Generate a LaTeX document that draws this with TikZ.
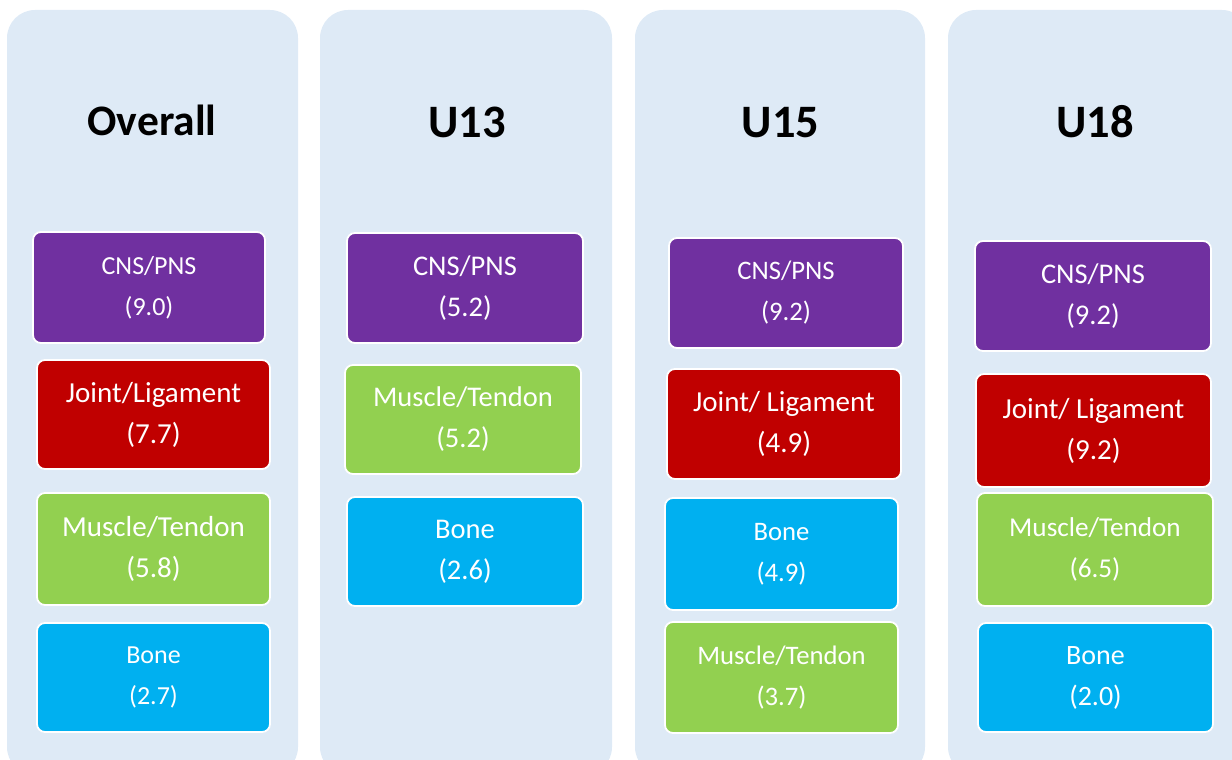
\documentclass[tikz,border=0pt]{standalone}
\usepackage{fontspec}
\setmainfont{Carlito}
\definecolor{panel}{HTML}{DEEAF6}
\definecolor{cnscol}{HTML}{7030A0}
\definecolor{jointcol}{HTML}{C00000}
\definecolor{musclecol}{HTML}{92D050}
\definecolor{bonecol}{HTML}{00B0F0}
\begin{document}
\begin{tikzpicture}[x=1pt,y=-1pt,
  panelbox/.style={fill=panel,rounded corners=28pt},
  heading/.style={font=\fontsize{#1}{50}\selectfont\bfseries,text=black,anchor=base,inner sep=0pt},
  cell/.style={draw=white,line width=1.8pt,rounded corners=8pt,text=white,
    align=center,inner sep=0pt},
  fs/.style={font=\fontsize{#1}{41}\selectfont},
  cns/.style={cell,fill=cnscol,fs=#1},
  joint/.style={cell,fill=jointcol,fs=#1},
  muscle/.style={cell,fill=musclecol,fs=#1},
  bone/.style={cell,fill=bonecol,fs=#1}]
\useasboundingbox (0,0) rectangle (1232,760);
\begin{scope}
\clip (0,0) rectangle (1232,760);
% background panels, one per age group
\fill[panelbox] (7,10) rectangle (298,775);
\fill[panelbox] (320,10) rectangle (612,775);
\fill[panelbox] (635,10) rectangle (925,775);
\fill[panelbox] (948,10) rectangle (1250,775);
\end{scope}
% headings
\node[heading=43.5] (h1) at (152,135) {Overall};
\node[heading=46.5] (h2) at (467,137) {U13};
\node[heading=46.5] (h3) at (780.5,137) {U15};
\node[heading=46.5] (h4) at (1095,137) {U18};
% Overall
\node[cns=26,minimum width=232pt,minimum height=111pt] (c1a) at (149,287.5) {CNS/PNS\\(9.0)};
\node[joint=29,minimum width=233pt,minimum height=109pt] (c1b) at (153.5,414.5) {Joint/Ligament\\(7.7)};
\node[muscle=29,minimum width=233pt,minimum height=112pt] (c1c) at (153.5,549) {Muscle/Tendon\\(5.8)};
\node[bone=26,minimum width=233pt,minimum height=109pt] (c1d) at (153.5,677.5) {Bone\\(2.7)};
% U13
\node[cns=28.5,minimum width=236pt,minimum height=110pt] (c2a) at (465,288) {CNS/PNS\\(5.2)};
\node[muscle=28.5,minimum width=236pt,minimum height=109pt] (c2b) at (463,419.5) {Muscle/Tendon\\(5.2)};
\node[bone=28.5,minimum width=236pt,minimum height=109pt] (c2c) at (465,551.5) {Bone\\(2.6)};
% U15
\node[cns=26.7,minimum width=234pt,minimum height=110pt] (c3a) at (786,293) {CNS/PNS\\(9.2)};
\node[joint=29,minimum width=234pt,minimum height=110pt] (c3b) at (784,424) {Joint/ Ligament\\(4.9)};
\node[bone=26.7,minimum width=233pt,minimum height=112pt] (c3c) at (781.5,554) {Bone\\(4.9)};
\node[muscle=26.7,minimum width=233pt,minimum height=111pt] (c3d) at (781.5,677.5) {Muscle/Tendon\\(3.7)};
% U18
\node[cns=28.5,minimum width=236pt,minimum height=110pt] (c4a) at (1093,296) {CNS/PNS\\(9.2)};
\node[joint=29,minimum width=235pt,minimum height=113pt] (c4b) at (1093.5,430.5) {Joint/ Ligament\\(9.2)};
\node[muscle=27.2,minimum width=236pt,minimum height=113pt] (c4c) at (1095,549.5) {Muscle/Tendon\\(6.5)};
\node[bone=28,minimum width=235pt,minimum height=109pt] (c4d) at (1095.5,677.5) {Bone\\(2.0)};
\end{tikzpicture}
\end{document}
